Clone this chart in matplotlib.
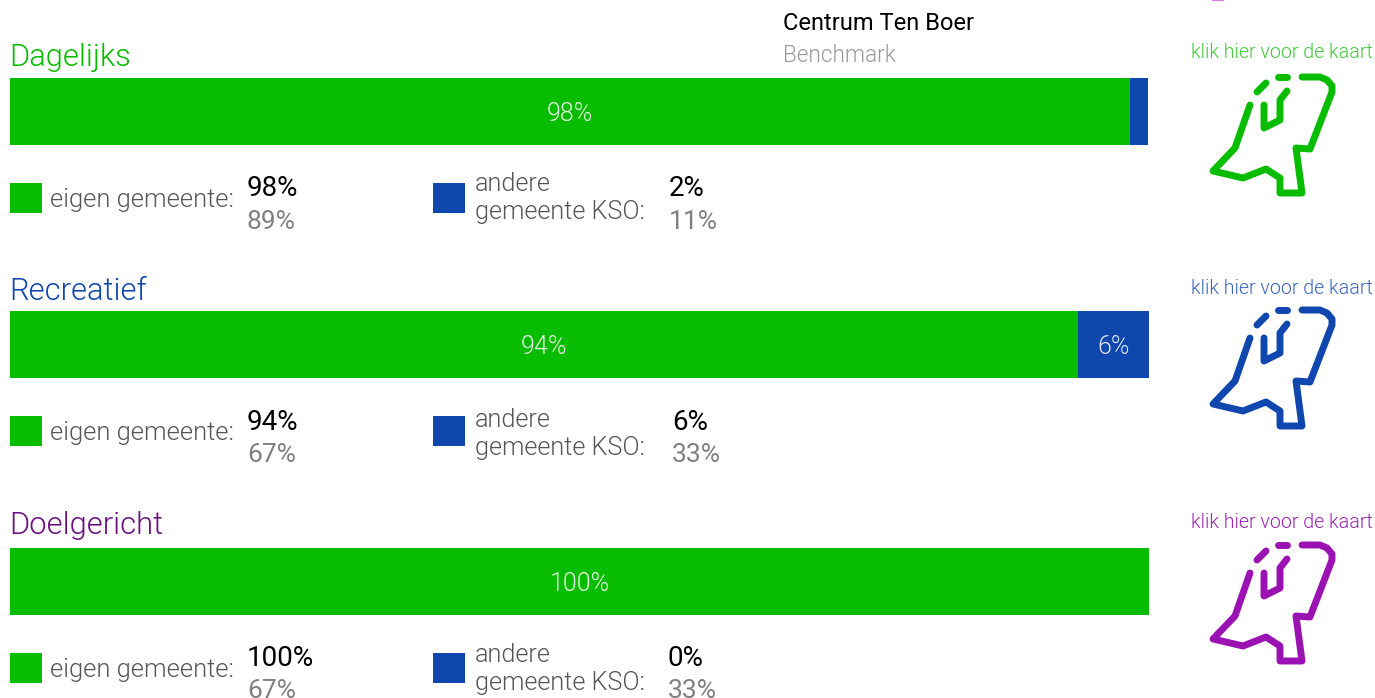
import matplotlib
matplotlib.use("Agg")
import matplotlib.pyplot as plt
from matplotlib.patches import Rectangle

W, H = 1375, 698
GREEN = "#08bc00"
BLUE = "#0f47af"
PURPLE = "#6a0f80"
GREY = "#808080"

plt.rcParams["font.family"] = ["Roboto", "DejaVu Sans"]
LIGHT = 300

# values
categories = ["Dagelijks", "Recreatief", "Doelgericht"]
eigen = [98.3, 93.8, 100.0]
andere = [1.6, 6.2, 0.0]
eigen_labels = ["98%", "94%", "100%"]
andere_labels = ["", "6%", ""]
eigen_bench = ["89%", "67%", "67%"]
andere_main = ["2%", "6%", "0%"]
andere_bench = ["11%", "33%", "33%"]

title_colors = ["#08bc00", BLUE, PURPLE]
link_colors = ["#40c83a", "#3a66bd", "#9a24b0"]
icon_colors = ["#08bc00", BLUE, "#9b12b3"]

# layout, in pixels from the top of the picture
bar_tops = [78, 311, 548]
bar_h = 67
title_y = [58, 292, 526]
legend_tops = [183, 416, 653]
main_y = [189, 422, 659]
bench_y = [222, 455, 691]
andere_y1 = [184, 420, 655]
andere_y2 = [212, 448, 683]
andere_x = [669, 672, 668]
link_y = [52, 288, 523]
icon_dy = [0, 233, 468]

# province outline in pixels, drawn as separate strokes
outline = [(1250, 105), (1235, 148), (1213, 171), (1243, 178), (1266, 169),
           (1280, 178), (1280, 193), (1302, 193), (1296, 148), (1310, 149),
           (1332, 92), (1332, 86), (1327, 80), (1320, 77), (1302, 77)]
islands = [[(1257, 92), (1266, 83)], [(1278, 77), (1287, 77)]]
inner = [(1264, 105), (1264, 128), (1280, 120), (1280, 100), (1287, 91)]

fig = plt.figure(figsize=(W / 100, H / 100), dpi=100)
page = fig.add_axes([0, 0, 1, 1])
page.set_xlim(0, W)
page.set_ylim(H, 0)
page.axis("off")

page.text(783, 24, "Centrum Ten Boer", fontsize=17, color="black", va="center")
page.text(783, 56, "Benchmark", fontsize=16.3, color="#999999", va="center", fontweight=LIGHT)
page.plot([1214, 1222], [-1, -1], color="#d77fe0", lw=3, clip_on=False)

for i, cat in enumerate(categories):
    # the bar itself on its own 0-100 axes
    ax = fig.add_axes([10 / W, 1 - (bar_tops[i] + bar_h) / H, 1139 / W, bar_h / H], zorder=2)
    ax.barh([0], [eigen[i]], height=1, color=GREEN)
    ax.barh([0], [andere[i]], height=1, left=[eigen[i]], color=BLUE)
    ax.set_xlim(0, 100)
    ax.set_ylim(-0.5, 0.5)
    ax.axis("off")
    ax.text(eigen[i] / 2, -0.03, eigen_labels[i], color="#e8f8e6", fontsize=18,
            ha="center", va="center", fontweight=LIGHT)
    if andere_labels[i]:
        ax.text(eigen[i] + andere[i] / 2, -0.03, andere_labels[i], color="#dfe6f4", fontsize=18,
                ha="center", va="center", fontweight=LIGHT)

    page.text(9, title_y[i], cat, color=title_colors[i], fontsize=22.2, va="center", fontweight=LIGHT)

    top = legend_tops[i]
    page.add_patch(Rectangle((10, top), 32, 30, color=GREEN, lw=0))
    page.add_patch(Rectangle((433, top), 32, 30, color=BLUE, lw=0))
    page.text(50, top + 17, "eigen gemeente:", color="#555555", fontsize=18.4, va="center", fontweight=LIGHT)
    page.text(247, main_y[i], eigen_labels[i], color="black", fontsize=20, va="center")
    page.text(247, bench_y[i], eigen_bench[i], color=GREY, fontsize=19, va="center", clip_on=False)
    page.text(475, andere_y1[i], "andere", color="#555555", fontsize=18.2, va="center", fontweight=LIGHT)
    page.text(475, andere_y2[i], "gemeente KSO:", color="#555555", fontsize=18.2, va="center", fontweight=LIGHT)
    page.text(andere_x[i], main_y[i], andere_main[i], color="black", fontsize=20, va="center")
    page.text(andere_x[i], bench_y[i], andere_bench[i], color=GREY, fontsize=19, va="center", clip_on=False)

    page.text(1282, link_y[i], "klik hier voor de kaart", color=link_colors[i], fontsize=14.1,
              ha="center", va="center", fontweight=LIGHT)
    dy = icon_dy[i]
    for stroke in [outline, inner] + islands:
        xs = [p[0] for p in stroke]
        ys = [p[1] + dy for p in stroke]
        page.plot(xs, ys, color=icon_colors[i], lw=5, solid_capstyle="round", solid_joinstyle="round")

fig.savefig("out.png", dpi=100)
